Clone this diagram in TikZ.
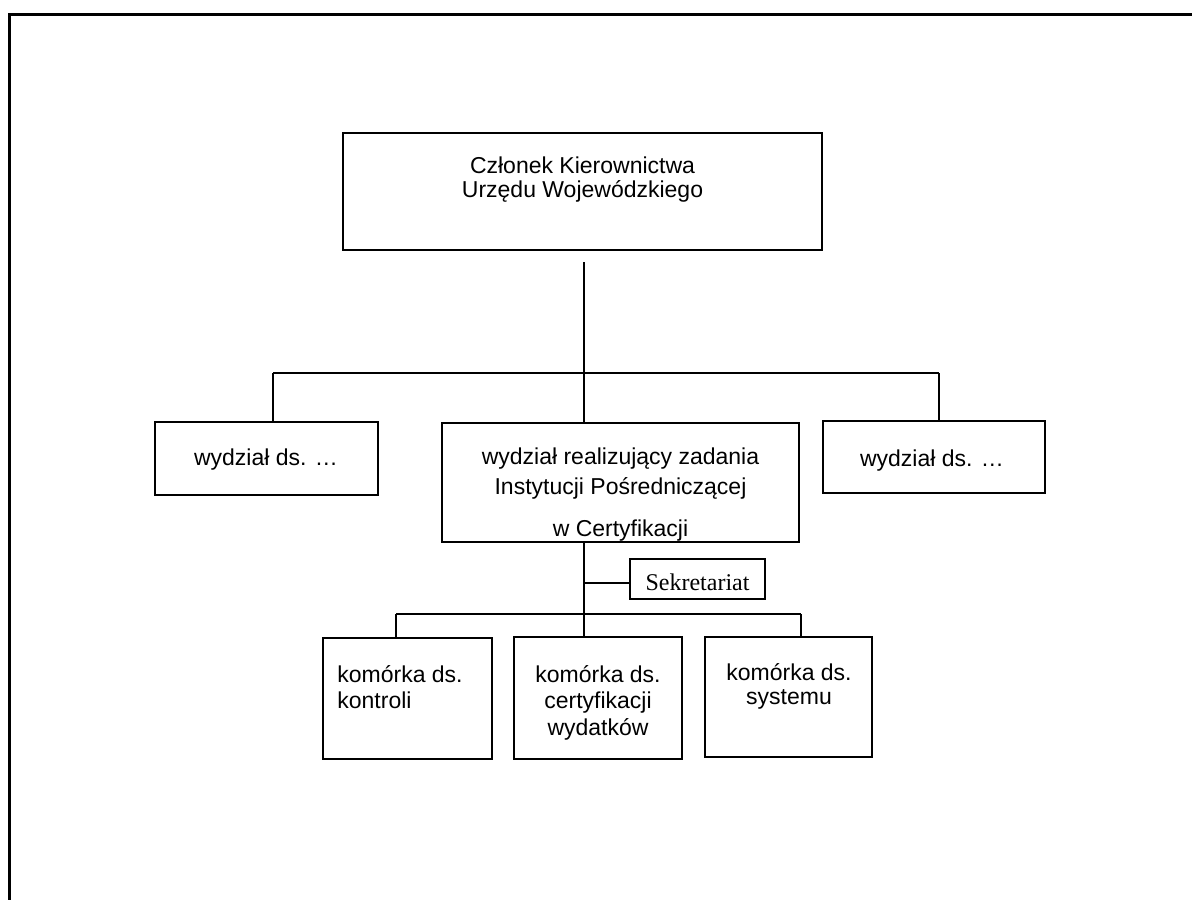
\documentclass[tikz,border=0pt]{standalone}
\usepackage{fontspec}
\setmainfont{Liberation Sans}
\newfontfamily\seriffont{Liberation Serif}
\usetikzlibrary{fit}
\begin{document}
\begin{tikzpicture}[x=0.5pt,y=-0.5pt,
  box/.style={draw, line width=1.2pt, inner sep=0pt},
  conn/.style={line width=1pt},
  frameline/.style={line width=1.5pt},
  txt/.style={inner sep=0pt, anchor=base, font=\fontsize{11.5}{12}\selectfont},
  ltxt/.style={txt, anchor=base west},
  stxt/.style={inner sep=0pt, anchor=base, font=\seriffont\fontsize{12}{13}\selectfont}]
\useasboundingbox (0,0) rectangle (1192,900);
% frame
\coordinate (fr1) at (1192,14);
\coordinate (fr2) at (9,14);
\coordinate (fr3) at (9,900);
\draw[frameline] (fr1) -- (fr2) -- (fr3);
% texts
\node[txt] (t1) at (582.5,173) {Członek Kierownictwa};
\node[txt] (t2) at (582.5,197) {Urzędu Wojewódzkiego};
\node[txt] (l1) at (266,465) {wydział ds. …};
\node[txt] (m1) at (620.5,464) {wydział realizujący zadania};
\node[txt] (m2) at (620.5,494) {Instytucji Pośredniczącej};
\node[txt] (m3) at (620.5,536) {w Certyfikacji};
\node[txt] (r1) at (932,466) {wydział ds. …};
\node[stxt] (s1) at (697.5,590) {Sekretariat};
\node[ltxt] (b11) at (337,682) {komórka ds.};
\node[ltxt] (b12) at (337,708) {kontroli};
\node[txt] (b21) at (598,682) {komórka ds.};
\node[txt] (b22) at (598,708) {certyfikacji};
\node[txt] (b23) at (598,735) {wydatków};
\node[txt] (b31) at (789,680) {komórka ds.};
\node[txt] (b32) at (789,704) {systemu};
% boxes
\node[box, fit={(343,133) (822,250)}] (T) {};
\node[box, fit={(155,422) (378,495)}] (L) {};
\node[box, fit={(442,423) (799,542)}] (M) {};
\node[box, fit={(823,421) (1045,493)}] (R) {};
\node[box, fit={(630,559) (765,599)}] (S) {};
\node[box, fit={(323,638) (492,759)}] (B1) {};
\node[box, fit={(514,637) (682,759)}] (B2) {};
\node[box, fit={(705,637) (872,757)}] (B3) {};
% connectors
\coordinate (c0) at (584,262);
\coordinate (j1L) at (273,373);
\coordinate (j1M) at (584,373);
\coordinate (j1R) at (939,373);
\draw[conn] (c0) -- (j1M);
\draw[conn] (j1L) -- (j1R);
\draw[conn] (j1L) -- (j1L |- L.north);
\draw[conn] (j1M) -- (j1M |- M.north);
\draw[conn] (j1R) -- (j1R |- R.north);
\coordinate (j2M) at (584,614);
\coordinate (j2L) at (396,614);
\coordinate (j2R) at (801,614);
\coordinate (js) at (584,583);
\draw[conn] (j2M |- M.south) -- (j2M);
\draw[conn] (js) -- (S.west |- js);
\draw[conn] (j2L) -- (j2R);
\draw[conn] (j2L) -- (j2L |- B1.north);
\draw[conn] (j2M) -- (j2M |- B2.north);
\draw[conn] (j2R) -- (j2R |- B3.north);
\end{tikzpicture}
\end{document}
